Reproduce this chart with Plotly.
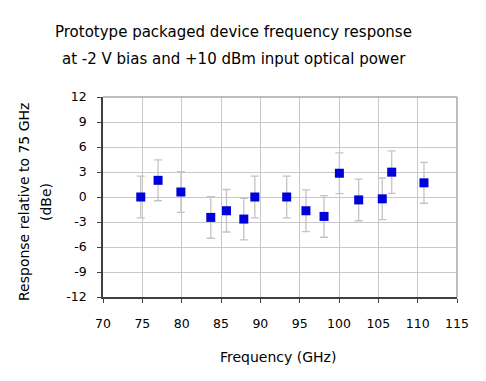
import plotly.graph_objects as go

freq_ghz = [74.8, 77.0, 79.9, 83.7, 85.7, 87.9, 89.3, 93.35, 95.8, 98.1, 100.05, 102.5, 105.5, 106.7, 110.8]
response_dbe = [0.0, 2.0, 0.6, -2.45, -1.65, -2.65, 0.0, 0.0, -1.65, -2.33, 2.85, -0.35, -0.22, 2.98, 1.7]
error_dbe = [2.5, 2.45, 2.45, 2.5, 2.55, 2.5, 2.5, 2.5, 2.5, 2.5, 2.45, 2.5, 2.5, 2.55, 2.45]
x_ticks = [70, 75, 80, 85, 90, 95, 100, 105, 110, 115]
y_ticks = [-12, -9, -6, -3, 0, 3, 6, 9, 12]
title_lines = ["Prototype packaged device frequency response", "at -2 V bias and +10 dBm input optical power"]
x_title = "Frequency (GHz)"
y_title_lines = ["Response relative to 75 GHz", "(dBe)"]

font_family = "DejaVu Sans"
W, H = 486, 381

fig = go.Figure()
fig.add_trace(go.Scatter(
    x=freq_ghz, y=response_dbe, mode="markers",
    marker=dict(symbol="square", size=9, color="#0000d8", line=dict(width=0)),
    error_y=dict(type="data", array=error_dbe, visible=True, color="#c4c4c4", thickness=1.3, width=4),
    showlegend=False,
))

annotations = []
# title lines (paper coords relative to plot area: l=103, r=457, t=97, b=297)
def px_to_paper_x(px):
    return (px - 103) / (457 - 103)

def py_to_paper_y(py):
    return (297 - py) / (297 - 97)

for text, cy in zip(title_lines, [32, 59]):
    annotations.append(dict(text=text, xref="paper", yref="paper", x=px_to_paper_x(233.5), y=py_to_paper_y(cy),
                            xanchor="center", yanchor="middle", showarrow=False,
                            font=dict(family=font_family, size=15, color="black")))
annotations.append(dict(text=x_title, xref="paper", yref="paper", x=px_to_paper_x(278), y=py_to_paper_y(357),
                        xanchor="center", yanchor="middle", showarrow=False,
                        font=dict(family=font_family, size=14, color="black")))
for text, cx in zip(y_title_lines, [24, 46]):
    annotations.append(dict(text=text, xref="paper", yref="paper", x=px_to_paper_x(cx), y=py_to_paper_y(202),
                            xanchor="center", yanchor="middle", showarrow=False, textangle=-90,
                            font=dict(family=font_family, size=14, color="black")))

fig.update_layout(
    width=W, height=H,
    margin=dict(l=103, r=29, t=97, b=84),
    paper_bgcolor="white", plot_bgcolor="white",
    font=dict(family=font_family, size=12, color="black"),
    xaxis=dict(
        range=[70, 115], tickvals=x_ticks, ticktext=[str(t) for t in x_ticks],
        showgrid=True, gridcolor="#c8c8c8", gridwidth=1,
        showline=True, linecolor="#404040", linewidth=1.5,
        ticks="outside", ticklen=4, tickcolor="#404040",
        zeroline=False, ticklabelstandoff=10,
        tickfont=dict(family=font_family, size=12.5),
    ),
    yaxis=dict(
        range=[-12, 12], tickvals=y_ticks, ticktext=[str(t) for t in y_ticks],
        showgrid=True, gridcolor="#c8c8c8", gridwidth=1,
        showline=True, linecolor="#404040", linewidth=1.5,
        ticks="outside", ticklen=4, tickcolor="#404040",
        zeroline=False, ticklabelstandoff=8,
        tickfont=dict(family=font_family, size=12.5),
    ),
    annotations=annotations,
    shapes=[
        dict(type="line", xref="paper", yref="paper", x0=0, x1=1, y0=1, y1=1, line=dict(color="#a8a8a8", width=1.5)),
        dict(type="line", xref="paper", yref="paper", x0=1, x1=1, y0=0, y1=1, line=dict(color="#a8a8a8", width=1.5)),
    ],
)

fig.write_html("out.html")
